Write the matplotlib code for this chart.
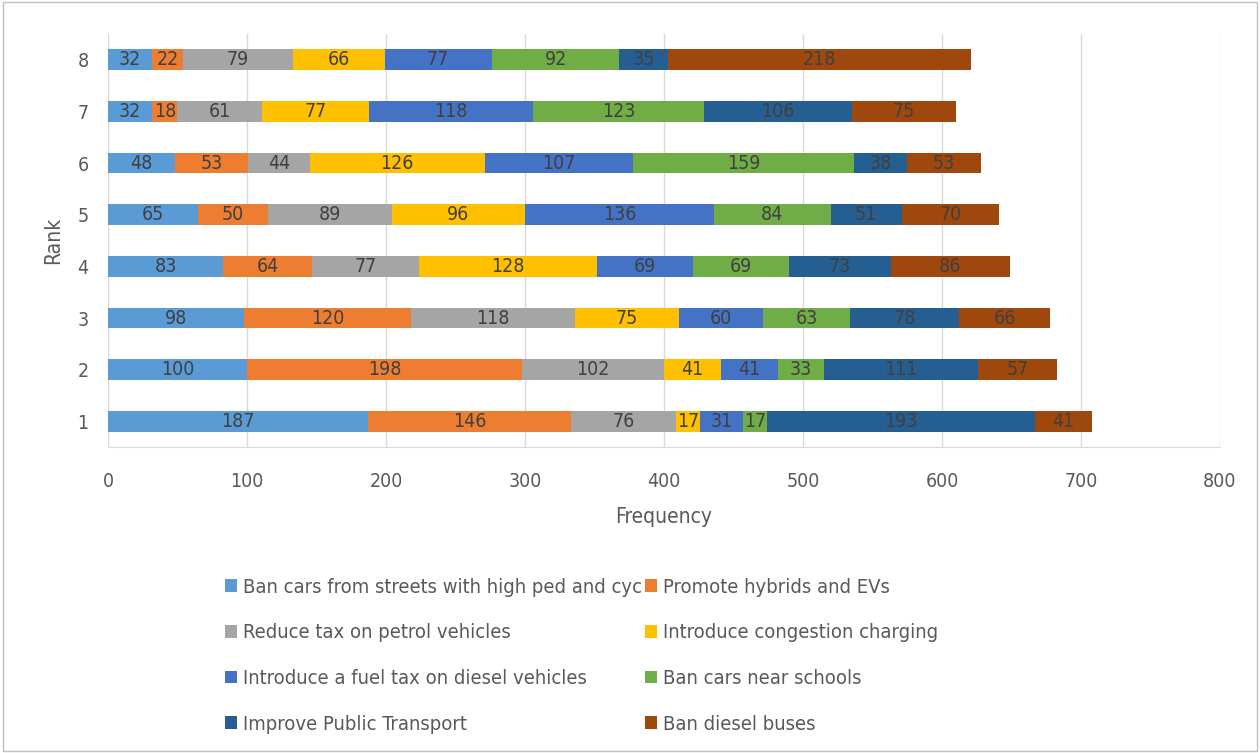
import matplotlib
matplotlib.use("Agg")
import matplotlib.pyplot as plt
import numpy as np

plt.rcParams['font.family'] = ['DejaVu Sans']
plt.rcParams['font.stretch'] = 'condensed'

ranks = ["1", "2", "3", "4", "5", "6", "7", "8"]
measures = [
    "Ban cars from streets with high ped and cyc",
    "Promote hybrids and EVs",
    "Reduce tax on petrol vehicles",
    "Introduce congestion charging",
    "Introduce a fuel tax on diesel vehicles",
    "Ban cars near schools",
    "Improve Public Transport",
    "Ban diesel buses",
]
# one list per measure, values for rank 1..8
ban_streets = [187, 100, 98, 83, 65, 48, 32, 32]
hybrids_evs = [146, 198, 120, 64, 50, 53, 18, 22]
reduce_tax = [76, 102, 118, 77, 89, 44, 61, 79]
congestion = [17, 41, 75, 128, 96, 126, 77, 66]
fuel_tax = [31, 41, 60, 69, 136, 107, 118, 77]
ban_schools = [17, 33, 63, 69, 84, 159, 123, 92]
public_transport = [193, 111, 78, 73, 51, 38, 106, 35]
ban_buses = [41, 57, 66, 86, 70, 53, 75, 218]

series = [ban_streets, hybrids_evs, reduce_tax, congestion,
          fuel_tax, ban_schools, public_transport, ban_buses]
colors = ["#5B9BD5", "#ED7D31", "#A5A5A5", "#FFC000",
          "#4472C4", "#70AD47", "#255E91", "#9E480E"]

fig = plt.figure(figsize=(12.6, 7.53), dpi=100)
ax = fig.add_axes([0.0857, 0.406, 0.8825, 0.549])

y = np.arange(1, len(ranks) + 1)
left = np.zeros(len(ranks))
handles = []
for vals, name, col in zip(series, measures, colors):
    bars = ax.barh(y, vals, left=left, height=0.4, color=col, label=name)
    handles.append(bars)
    for yy, l, v in zip(y, left, vals):
        ax.text(l + v / 2, yy, str(v), ha="center", va="center",
                fontsize=14, color="#404040")
    left = left + np.array(vals)

ax.set_xlim(0, 800)
ax.set_ylim(0.5, 8.5)
ax.set_yticks(y)
ax.set_yticklabels(ranks)
ax.set_xticks(range(0, 801, 100))
ax.tick_params(length=0, labelsize=14, colors="#595959")
ax.tick_params(axis="y", pad=14)
ax.tick_params(axis="x", pad=18)
ax.grid(axis="x", color="#D9D9D9", linewidth=1)
ax.set_axisbelow(True)
for s in ["top", "right", "left"]:
    ax.spines[s].set_visible(False)
ax.spines["bottom"].set_color("#D9D9D9")
ax.set_xlabel("Frequency", fontsize=15, color="#595959", labelpad=11)
ax.set_ylabel("Rank", fontsize=15, color="#595959", labelpad=10)

# row-wise legend order for 2 columns
order = [0, 2, 4, 6, 1, 3, 5, 7]
fig.legend([handles[i] for i in order], [measures[i] for i in order],
           ncol=2, loc="upper left", bbox_to_anchor=(0.164, 0.257),
           frameon=False, fontsize=14.5, labelcolor="#595959",
           handlelength=0.6, handleheight=0.6, handletextpad=0.3,
           columnspacing=0.15, labelspacing=1.33)

fig.patches.append(plt.Rectangle((0.002, 0.002), 0.996, 0.996, transform=fig.transFigure,
                                 fill=False, edgecolor="#BFBFBF", linewidth=1))

fig.savefig("out.png", dpi=100)
